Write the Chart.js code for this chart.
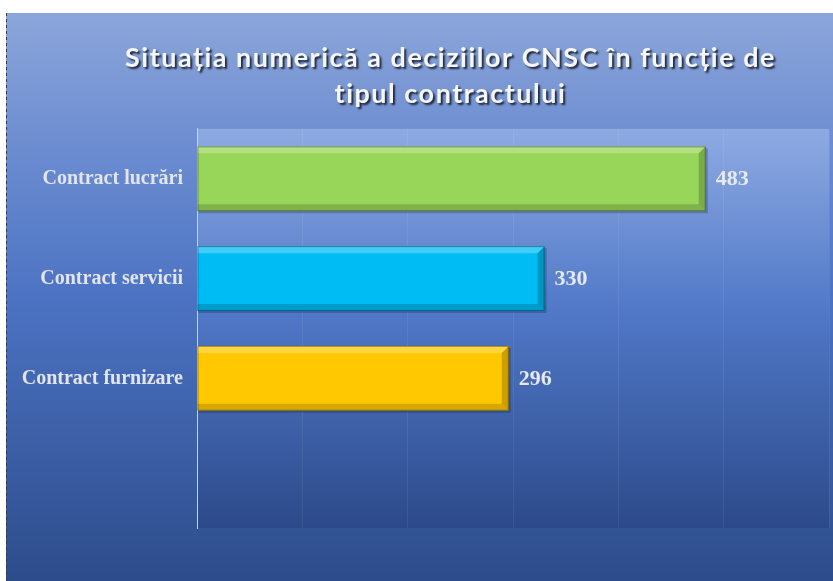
<!DOCTYPE html>
<html>
<head>
<meta charset="utf-8">
<script src="https://cdn.jsdelivr.net/npm/chart.js@4/dist/chart.umd.min.js"></script>
<style>
  html, body { margin: 0; padding: 0; background: #fff; }
  #wrap { width: 833px; height: 581px; }
</style>
</head>
<body>
<div id="wrap"><canvas id="cnscChart" width="833" height="581"></canvas></div>
<script>
// ── Data ──
const TITLE_LINES = ['Situația numerică a deciziilor CNSC în funcție de', 'tipul contractului'];
const CATEGORIES  = ['Contract lucrări', 'Contract servicii', 'Contract furnizare', ''];
const DECISIONS   = [483, 330, 296, null];
const BAR_COLORS  = ['#98d65a', '#00bcf4', '#ffc800', '#ffffff'];
const X_MAX  = 600;
const X_STEP = 100;

// ── Panel + plot area backgrounds ──
const backdrop = {
  id: 'backdrop',
  beforeDraw(chart) {
    const { ctx, chartArea: a } = chart;
    ctx.save();
    ctx.fillStyle = '#ffffff';
    ctx.fillRect(0, 0, chart.width, chart.height);

    const g = ctx.createLinearGradient(0, 13, 0, chart.height);
    g.addColorStop(0, '#8ca6da');
    g.addColorStop(0.22, '#6e8ed1');
    g.addColorStop(0.5, '#4c73c3');
    g.addColorStop(1, '#2d4c8b');
    ctx.fillStyle = g;
    ctx.fillRect(6, 13, chart.width - 6, chart.height - 13);

    const p = ctx.createLinearGradient(0, a.top, 0, a.bottom);
    p.addColorStop(0, '#8eaae2');
    p.addColorStop(0.45, '#5179c8');
    p.addColorStop(1, '#2c4a8a');
    ctx.fillStyle = p;
    ctx.fillRect(a.left, a.top, a.right - a.left, a.bottom - a.top);

    ctx.strokeStyle = '#3a3a3a';
    ctx.setLineDash([3, 3]);
    ctx.beginPath();
    ctx.moveTo(6.5, 13);
    ctx.lineTo(6.5, chart.height);
    ctx.stroke();
    ctx.restore();
  }
};

// ── Bevelled bars + drop shadow ──
const bevel = {
  id: 'bevel',
  beforeDatasetsDraw(chart) {
    const { ctx } = chart;
    ctx.save();
    chart.getDatasetMeta(0).data.forEach((bar, i) => {
      if (DECISIONS[i] == null) return;
      const h = bar.height;
      ctx.fillStyle = 'rgba(10,25,60,0.25)';
      ctx.fillRect(bar.base + 1, bar.y - h / 2 + 2, bar.x - bar.base + 1, h);
    });
    ctx.restore();
  },
  afterDatasetsDraw(chart) {
    const { ctx } = chart;
    const b = 7;
    ctx.save();
    chart.getDatasetMeta(0).data.forEach((bar, i) => {
      if (DECISIONS[i] == null) return;
      const L = bar.base, R = bar.x, T = bar.y - bar.height / 2, B = bar.y + bar.height / 2;
      const poly = (pts, fill) => {
        ctx.beginPath();
        ctx.moveTo(pts[0][0], pts[0][1]);
        pts.slice(1).forEach(pt => ctx.lineTo(pt[0], pt[1]));
        ctx.closePath();
        ctx.fillStyle = fill;
        ctx.fill();
      };
      poly([[L, T], [R, T], [R - b, T + b], [L, T + b]], 'rgba(255,255,255,0.25)');
      poly([[L, B], [R, B], [R - b, B - b], [L, B - b]], 'rgba(0,0,0,0.16)');
      poly([[R, T], [R, B], [R - b, B - b], [R - b, T + b]], 'rgba(0,0,0,0.20)');
      ctx.strokeStyle = 'rgba(0,0,0,0.35)';
      ctx.lineWidth = 1;
      ctx.strokeRect(L + 0.5, T + 0.5, R - L - 1, B - T - 1);
    });
    ctx.restore();
  }
};

// ── Value labels at bar ends ──
const valueLabels = {
  id: 'valueLabels',
  afterDatasetsDraw(chart) {
    const { ctx } = chart;
    ctx.save();
    ctx.font = "bold 22px 'Liberation Serif', 'Times New Roman', serif";
    ctx.fillStyle = '#e6e9f0';
    ctx.textAlign = 'left';
    ctx.textBaseline = 'middle';
    chart.getDatasetMeta(0).data.forEach((bar, i) => {
      if (DECISIONS[i] == null) return;
      ctx.fillText(String(DECISIONS[i]), bar.x + 10, bar.y + 1);
    });
    ctx.restore();
  }
};

// ── Title: shadow, letter spacing, shifted to match the original centring ──
const titleStyle = {
  id: 'titleStyle',
  afterLayout(chart) {
    const tb = chart.titleBlock;
    if (!tb || tb._styled) return;
    const orig = tb.draw;
    tb.draw = function () {
      const c = this.ctx;
      c.save();
      c.translate(33, 0);
      c.letterSpacing = '1.5px';
      c.shadowColor = 'rgba(0,0,0,0.75)';
      c.shadowOffsetX = 2;
      c.shadowOffsetY = 2;
      c.shadowBlur = 2;
      orig.apply(this, arguments);
      c.restore();
    };
    tb._styled = true;
  }
};

new Chart(document.getElementById('cnscChart'), {
  type: 'bar',
  data: {
    labels: CATEGORIES,
    datasets: [{
      label: 'Decizii CNSC',
      data: DECISIONS,
      backgroundColor: BAR_COLORS,
      borderWidth: 0,
      categoryPercentage: 0.65,
      barPercentage: 1,
    }]
  },
  options: {
    indexAxis: 'y',
    responsive: false,
    animation: false,
    events: [],
    layout: { padding: { left: 6, right: 4, top: 13, bottom: 53 } },
    plugins: {
      legend: { display: false },
      tooltip: { enabled: false },
      title: {
        display: true,
        text: TITLE_LINES,
        color: '#f4f6fa',
        font: { family: 'Lato', size: 27, weight: 'bold', lineHeight: 1.35 },
        padding: { top: 27, bottom: 16 }
      }
    },
    scales: {
      x: {
        min: 0,
        max: X_MAX,
        ticks: { display: false, stepSize: X_STEP },
        grid: { color: 'rgba(255,255,255,0.07)', drawTicks: false },
        border: { display: false },
        afterFit(scale) { scale.height = 0; }
      },
      y: {
        grid: { display: false, drawTicks: false },
        border: { display: true, color: '#c6d3f0', width: 1 },
        ticks: {
          color: '#e2e5ec',
          padding: 14,
          font: { family: "'Liberation Serif', 'Times New Roman', serif", size: 20, weight: 'bold' }
        },
        afterFit(scale) { scale.width = 191; }
      }
    }
  },
  plugins: [backdrop, bevel, valueLabels, titleStyle]
});
</script>
</body>
</html>
